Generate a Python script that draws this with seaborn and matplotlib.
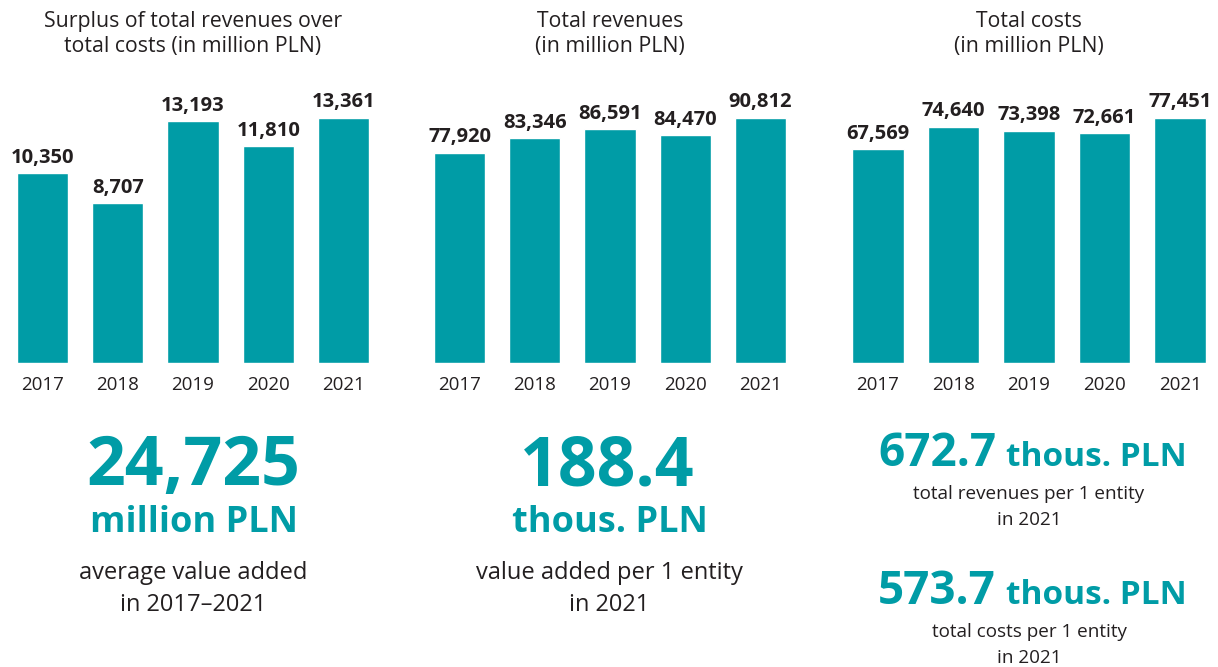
import matplotlib
matplotlib.use("Agg")
import matplotlib.pyplot as plt
import seaborn as sns
import pandas as pd

# ---- data ----
years = ["2017", "2018", "2019", "2020", "2021"]
surplus = [10350, 8707, 13193, 11810, 13361]
revenues = [77920, 83346, 86591, 84470, 90812]
costs = [67569, 74640, 73398, 72661, 77451]

panel_titles = [
    "Surplus of total revenues over\ntotal costs (in million PLN)",
    "Total revenues\n(in million PLN)",
    "Total costs\n(in million PLN)",
]

avg_value_added = "24,725"
value_added_per_entity = "188.4"
revenues_per_entity = "672.7"
costs_per_entity = "573.7"

TEAL = "#009ca6"
DARK = "#231f20"
W, H = 1218, 667

sns.set_theme(style="white")
plt.rcParams["font.family"] = ["Open Sans", "DejaVu Sans"]

fig = plt.figure(figsize=(W / 100, H / 100), dpi=100)
fig.patch.set_facecolor("white")


def fx(px):
    return px / W


def fy(py):
    return 1 - py / H


# axes placement in pixel space: (left, right)
axes_spans = [(5, 381), (422, 798), (840, 1218)]
bottom_px, top_px = 363, 88
series = [surplus, revenues, costs]

for (l, r), vals, title in zip(axes_spans, series, panel_titles):
    ax = fig.add_axes([fx(l), fy(bottom_px), fx(r - l), (bottom_px - top_px) / H])
    df = pd.DataFrame({"year": years, "value": vals})
    sns.barplot(data=df, x="year", y="value", color=TEAL, width=0.68,
                saturation=1, ax=ax)
    ax.set_ylim(0, max(vals) * (bottom_px - top_px) / 245)
    ax.set_xlim(-0.5, 4.5)
    for bar, v in zip(ax.patches, vals):
        ax.annotate(f"{v:,}", (bar.get_x() + bar.get_width() / 2, v),
                    xytext=(0, 4), textcoords="offset points",
                    ha="center", va="bottom", fontsize=14.5, fontweight="bold",
                    color=DARK, clip_on=False)
    ax.set_xlabel("")
    ax.set_ylabel("")
    ax.set_yticks([])
    ax.tick_params(axis="x", length=0, pad=9, labelsize=13.5, labelcolor=DARK)
    for s in ax.spines.values():
        s.set_visible(False)
    ax.set_facecolor("none")
    fig.text(fx((l + r) / 2), fy(34), title, ha="center", va="center",
             fontsize=15.3, color=DARK, linespacing=1.3)

# ---- key figures below the charts ----
fig.text(fx(193), fy(467), avg_value_added, ha="center", va="center",
         fontsize=49, fontweight="bold", color=TEAL)
fig.text(fx(194), fy(523), "million PLN", ha="center", va="center",
         fontsize=26, fontweight="bold", color=TEAL)
fig.text(fx(193), fy(589), "average value added\nin 2017\u20132021", ha="center",
         va="center", fontsize=17, color=DARK, linespacing=1.45)

fig.text(fx(607), fy(467), value_added_per_entity, ha="center", va="center",
         fontsize=49, fontweight="bold", color=TEAL)
fig.text(fx(610), fy(523), "thous. PLN", ha="center", va="center",
         fontsize=26, fontweight="bold", color=TEAL)
fig.text(fx(609), fy(589), "value added per 1 entity\nin 2021", ha="center",
         va="center", fontsize=17, color=DARK, linespacing=1.45)

for val, ypx, desc, ydesc in [
    (revenues_per_entity, 452, "total revenues per 1 entity\nin 2021", 507),
    (costs_per_entity, 590, "total costs per 1 entity\nin 2021", 645),
]:
    fig.text(fx(996), fy(ypx + 14), val, ha="right", va="baseline",
             fontsize=33, fontweight="bold", color=TEAL)
    fig.text(fx(1006), fy(ypx + 14), "thous. PLN", ha="left", va="baseline",
             fontsize=24, fontweight="bold", color=TEAL)
    fig.text(fx(1029), fy(ydesc), desc, ha="center", va="center",
             fontsize=13.6, color=DARK, linespacing=1.6)

fig.savefig("out.png", dpi=100, facecolor="white")
